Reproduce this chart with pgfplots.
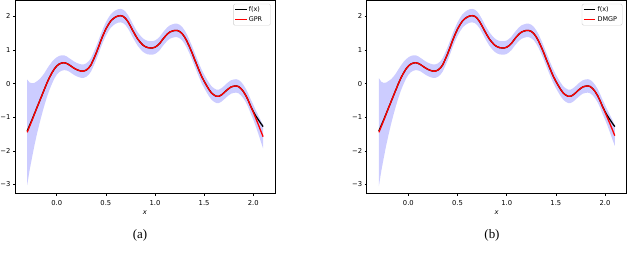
\documentclass[border=0pt]{standalone}
\usepackage{pgfplots}
\pgfplotsset{compat=1.18}
\usepackage{pgfplotstable}
\usepgfplotslibrary{fillbetween}
\usepackage{fontspec}
\setmainfont{Liberation Serif}
\newfontfamily\dejavu{DejaVu Sans}
\definecolor{bandblue}{RGB}{204,204,255}

\pgfplotstableread{
x f mu lo hi
-0.300 -1.41 -1.45 -3.02 0.12
-0.275 -1.24 -1.27 -2.57 0.03
-0.250 -1.07 -1.09 -2.19 0.01
-0.225 -0.89 -0.90 -1.82 0.02
-0.200 -0.71 -0.71 -1.49 0.07
-0.175 -0.53 -0.53 -1.19 0.13
-0.150 -0.35 -0.35 -0.91 0.21
-0.125 -0.17 -0.17 -0.65 0.31
-0.100 0.01 0.01 -0.41 0.43
-0.075 0.17 0.17 -0.20 0.54
-0.050 0.31 0.31 -0.02 0.64
-0.025 0.43 0.43 0.14 0.72
0.000 0.52 0.52 0.26 0.78
0.025 0.58 0.58 0.34 0.82
0.050 0.61 0.61 0.38 0.84
0.075 0.62 0.62 0.40 0.84
0.100 0.60 0.60 0.39 0.81
0.125 0.56 0.56 0.36 0.76
0.150 0.51 0.51 0.31 0.71
0.175 0.46 0.46 0.26 0.66
0.200 0.42 0.42 0.22 0.62
0.225 0.39 0.39 0.19 0.59
0.250 0.37 0.37 0.17 0.57
0.275 0.37 0.37 0.17 0.57
0.300 0.40 0.40 0.20 0.60
0.325 0.46 0.46 0.26 0.66
0.350 0.56 0.56 0.36 0.76
0.375 0.72 0.72 0.52 0.92
0.400 0.89 0.89 0.69 1.09
0.425 1.08 1.08 0.88 1.28
0.450 1.28 1.28 1.08 1.48
0.475 1.46 1.46 1.26 1.66
0.500 1.62 1.62 1.42 1.82
0.525 1.75 1.75 1.55 1.95
0.550 1.86 1.86 1.66 2.06
0.575 1.93 1.93 1.73 2.13
0.600 1.98 1.98 1.78 2.18
0.625 2.01 2.01 1.81 2.21
0.650 2.02 2.02 1.82 2.22
0.675 2.00 2.00 1.80 2.20
0.700 1.94 1.94 1.74 2.14
0.725 1.84 1.84 1.64 2.04
0.750 1.71 1.71 1.51 1.91
0.775 1.57 1.57 1.37 1.77
0.800 1.44 1.44 1.24 1.64
0.825 1.32 1.32 1.12 1.52
0.850 1.23 1.23 1.03 1.43
0.875 1.15 1.15 0.95 1.35
0.900 1.10 1.10 0.90 1.30
0.925 1.07 1.07 0.87 1.27
0.950 1.06 1.06 0.86 1.26
0.975 1.06 1.06 0.86 1.26
1.000 1.08 1.08 0.88 1.28
1.025 1.13 1.13 0.93 1.33
1.050 1.20 1.20 1.00 1.40
1.075 1.30 1.30 1.10 1.50
1.100 1.39 1.39 1.19 1.59
1.125 1.47 1.47 1.27 1.67
1.150 1.53 1.53 1.33 1.73
1.175 1.56 1.56 1.36 1.76
1.200 1.58 1.58 1.38 1.78
1.225 1.58 1.58 1.38 1.78
1.250 1.55 1.55 1.35 1.75
1.275 1.49 1.49 1.29 1.69
1.300 1.39 1.39 1.19 1.59
1.325 1.26 1.26 1.06 1.46
1.350 1.10 1.10 0.90 1.30
1.375 0.93 0.93 0.73 1.13
1.400 0.74 0.74 0.54 0.94
1.425 0.56 0.56 0.36 0.76
1.450 0.38 0.38 0.18 0.58
1.475 0.21 0.21 0.01 0.41
1.500 0.07 0.07 -0.13 0.27
1.525 -0.06 -0.06 -0.26 0.14
1.550 -0.18 -0.18 -0.38 0.02
1.575 -0.28 -0.28 -0.48 -0.08
1.600 -0.34 -0.34 -0.54 -0.14
1.625 -0.38 -0.38 -0.58 -0.18
1.650 -0.38 -0.38 -0.58 -0.18
1.675 -0.34 -0.34 -0.54 -0.14
1.700 -0.28 -0.28 -0.48 -0.08
1.725 -0.21 -0.21 -0.41 -0.01
1.750 -0.15 -0.15 -0.35 0.05
1.775 -0.10 -0.10 -0.30 0.10
1.800 -0.08 -0.08 -0.28 0.12
1.825 -0.07 -0.07 -0.27 0.13
1.850 -0.09 -0.09 -0.29 0.11
1.875 -0.15 -0.15 -0.35 0.05
1.900 -0.24 -0.24 -0.44 -0.04
1.925 -0.36 -0.36 -0.56 -0.16
1.950 -0.51 -0.51 -0.71 -0.31
1.975 -0.68 -0.69 -0.90 -0.48
2.000 -0.83 -0.85 -1.07 -0.63
2.025 -0.96 -1.03 -1.27 -0.79
2.050 -1.07 -1.21 -1.48 -0.94
2.075 -1.18 -1.40 -1.71 -1.09
2.100 -1.28 -1.58 -1.93 -1.23
}\dataA

\pgfplotstableread{
x mu lo hi
-0.300 -1.45 -3.05 0.16
-0.275 -1.27 -2.59 0.05
-0.250 -1.09 -2.20 0.02
-0.225 -0.90 -1.83 0.03
-0.200 -0.71 -1.50 0.08
-0.175 -0.53 -1.19 0.13
-0.150 -0.35 -0.91 0.21
-0.125 -0.17 -0.65 0.31
-0.100 0.01 -0.41 0.43
-0.075 0.17 -0.20 0.54
-0.050 0.31 -0.02 0.64
-0.025 0.43 0.14 0.72
0.000 0.52 0.26 0.78
0.025 0.58 0.34 0.82
0.050 0.61 0.38 0.84
0.075 0.62 0.40 0.84
0.100 0.60 0.39 0.81
0.125 0.56 0.36 0.76
0.150 0.51 0.31 0.71
0.175 0.46 0.26 0.66
0.200 0.42 0.22 0.62
0.225 0.39 0.19 0.59
0.250 0.37 0.17 0.57
0.275 0.37 0.17 0.57
0.300 0.40 0.20 0.60
0.325 0.46 0.26 0.66
0.350 0.56 0.36 0.76
0.375 0.72 0.52 0.92
0.400 0.89 0.69 1.09
0.425 1.08 0.88 1.28
0.450 1.28 1.08 1.48
0.475 1.46 1.26 1.66
0.500 1.62 1.42 1.82
0.525 1.75 1.55 1.95
0.550 1.86 1.66 2.06
0.575 1.93 1.73 2.13
0.600 1.98 1.78 2.18
0.625 2.01 1.81 2.21
0.650 2.02 1.82 2.22
0.675 2.00 1.80 2.20
0.700 1.94 1.74 2.14
0.725 1.84 1.64 2.04
0.750 1.71 1.51 1.91
0.775 1.57 1.37 1.77
0.800 1.44 1.24 1.64
0.825 1.32 1.12 1.52
0.850 1.23 1.03 1.43
0.875 1.15 0.95 1.35
0.900 1.10 0.90 1.30
0.925 1.07 0.87 1.27
0.950 1.06 0.86 1.26
0.975 1.06 0.86 1.26
1.000 1.08 0.88 1.28
1.025 1.13 0.93 1.33
1.050 1.20 1.00 1.40
1.075 1.30 1.10 1.50
1.100 1.39 1.19 1.59
1.125 1.47 1.27 1.67
1.150 1.53 1.33 1.73
1.175 1.56 1.36 1.76
1.200 1.58 1.38 1.78
1.225 1.58 1.38 1.78
1.250 1.55 1.35 1.75
1.275 1.49 1.29 1.69
1.300 1.39 1.19 1.59
1.325 1.26 1.06 1.46
1.350 1.10 0.90 1.30
1.375 0.93 0.73 1.13
1.400 0.74 0.54 0.94
1.425 0.56 0.36 0.76
1.450 0.38 0.18 0.58
1.475 0.21 0.01 0.41
1.500 0.07 -0.13 0.27
1.525 -0.06 -0.26 0.14
1.550 -0.18 -0.38 0.02
1.575 -0.28 -0.48 -0.08
1.600 -0.34 -0.54 -0.14
1.625 -0.38 -0.58 -0.18
1.650 -0.38 -0.58 -0.18
1.675 -0.34 -0.54 -0.14
1.700 -0.28 -0.48 -0.08
1.725 -0.21 -0.41 -0.01
1.750 -0.15 -0.35 0.05
1.775 -0.10 -0.30 0.10
1.800 -0.08 -0.28 0.12
1.825 -0.07 -0.27 0.13
1.850 -0.09 -0.29 0.11
1.875 -0.15 -0.35 0.05
1.900 -0.24 -0.44 -0.04
1.925 -0.36 -0.56 -0.16
1.950 -0.51 -0.71 -0.31
1.975 -0.69 -0.90 -0.48
2.000 -0.85 -1.07 -0.63
2.025 -1.02 -1.25 -0.79
2.050 -1.19 -1.45 -0.93
2.075 -1.37 -1.66 -1.08
2.100 -1.55 -1.85 -1.25
}\dataB

\pgfplotsset{
  gpstyle/.style={
    scale only axis, width=260bp, height=193bp,
    xmin=-0.424, xmax=2.221, ymin=-3.27, ymax=2.47,
    xtick={0,0.5,1,1.5,2}, xticklabels={0.0,0.5,1.0,1.5,2.0},
    ytick={-3,-2,-1,0,1,2}, yticklabels={−3,−2,−1,0,1,2},
    xtick pos=lower, ytick pos=left,
    tick align=outside, major tick length=2bp,
    tick style={black, line width=0.5bp},
    axis line style={line width=0.5bp},
    tick label style={font=\dejavu\fontsize{6.8}{8}\selectfont},
    xticklabel style={yshift=-1.6bp},
    yticklabel style={xshift=1bp},
    xlabel={\dejavu\itshape x},
    xlabel style={font=\fontsize{6.8}{8}\selectfont, at={(axis description cs:0.5,0)}, anchor=center, yshift=-18.7bp},
    legend cell align=left,
    legend style={at={(axis description cs:0.9835,0.983)}, anchor=north east,
      font=\dejavu\fontsize{6.5}{7.5}\selectfont, draw=black!18, rounded corners=1.5bp,
      inner xsep=1.2bp, inner ysep=1.5bp, row sep=1.6bp,
      nodes={inner xsep=1.5bp, inner ysep=1bp}},
    legend image code/.code={\draw[#1] (0bp,0bp) -- (11.5bp,0bp);},
  }
}

\begin{document}
\begin{tikzpicture}
\begin{axis}[gpstyle, at={(0bp,0bp)}, anchor=south west]
\addplot[draw=none, name path=hiA, forget plot] table[x=x,y=hi]{\dataA};
\addplot[draw=none, name path=loA, forget plot] table[x=x,y=lo]{\dataA};
\addplot[bandblue, forget plot] fill between[of=hiA and loA];
\addplot[black, line width=1.3bp] table[x=x,y=f]{\dataA};
\addplot[red, line width=1.3bp] table[x=x,y=mu]{\dataA};
\legend{\makebox[19bp][l]{f(x)},\makebox[19bp][l]{GPR}}
\end{axis}
\node[font=\fontsize{13}{15}\selectfont] at (125bp,-42bp) {(a)};
\begin{axis}[gpstyle, at={(351.7bp,0bp)}, anchor=south west]
\addplot[draw=none, name path=hiB, forget plot] table[x=x,y=hi]{\dataB};
\addplot[draw=none, name path=loB, forget plot] table[x=x,y=lo]{\dataB};
\addplot[bandblue, forget plot] fill between[of=hiB and loB];
\addplot[black, line width=1.3bp] table[x=x,y=f]{\dataA};
\addplot[red, line width=1.3bp] table[x=x,y=mu]{\dataB};
\legend{\makebox[22bp][l]{f(x)},\makebox[22bp][l]{DMGP}}
\end{axis}
\node[font=\fontsize{13}{15}\selectfont] at (477bp,-42bp) {(b)};
\pgfresetboundingbox
\path[use as bounding box] (-15bp,-66bp) rectangle (625bp,193.5bp);
\end{tikzpicture}
\end{document}
